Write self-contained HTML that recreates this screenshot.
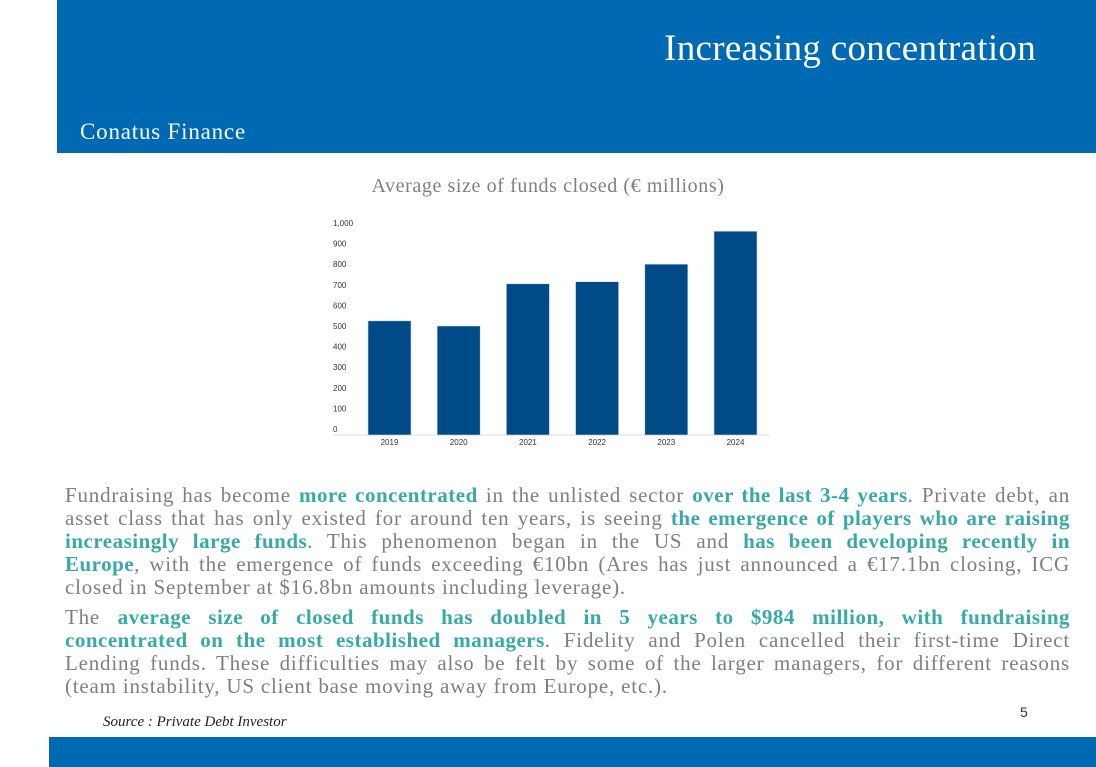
<!DOCTYPE html>
<html><head><meta charset="utf-8">
<style>
body{margin:0;width:1096px;height:767px;position:relative;background:#fff;overflow:hidden;font-family:"Liberation Serif",serif}
.hdr{position:absolute;left:57px;top:0;width:1039px;height:153px;background:#0069b4}
.title{position:absolute;right:60px;top:27px;color:#fff;font-size:37px;letter-spacing:0.3px}
.brand{position:absolute;left:23px;top:119px;color:#fff;font-size:23px;letter-spacing:0.8px}
.ctitle{position:absolute;left:0;width:1096px;top:175px;text-align:center;color:#7f7f7f;font-size:20px;letter-spacing:0.6px}
.txt{position:absolute;left:65px;width:1005px;color:#7f7f7f;font-size:21px;letter-spacing:0.8px}
.ln{height:23px;line-height:23px;text-align:justify;text-align-last:justify;white-space:nowrap;overflow:visible}
.ln.last{text-align-last:left}
b{color:#35aaa6;letter-spacing:0.5px}
.src{position:absolute;left:103px;top:714px;font-style:italic;font-size:15px;color:#222}
.pg{position:absolute;left:1020px;top:704px;font-family:"Liberation Sans",sans-serif;font-size:14px;color:#333}
.ftr{position:absolute;left:49px;top:737px;width:1047px;height:30px;background:#0069b4}
</style></head><body>
<div class="hdr">
<div class="title">Increasing concentration</div>
<div class="brand">Conatus Finance</div>
</div>
<div class="ctitle">Average size of funds closed (€ millions)</div>
<svg id="chart" style="position:absolute;left:0;top:0" width="1096" height="767"></svg>
<div class="txt" style="top:484px">
<div class="ln">Fundraising has become <b>more concentrated</b> in the unlisted sector <b>over the last 3-4 years</b>. Private debt, an</div>
<div class="ln">asset class that has only existed for around ten years, is seeing <b>the emergence of players who are raising</b></div>
<div class="ln"><b>increasingly large funds</b>. This phenomenon began in the US and <b>has been developing recently in</b></div>
<div class="ln"><b>Europe</b>, with the emergence of funds exceeding €10bn (Ares has just announced a €17.1bn closing, ICG</div>
<div class="ln last">closed in September at $16.8bn amounts including leverage).</div>
</div>
<div class="txt" style="top:606px">
<div class="ln">The <b>average size of closed funds has doubled in 5 years to $984 million, with fundraising</b></div>
<div class="ln"><b>concentrated on the most established managers</b>. Fidelity and Polen cancelled their first-time Direct</div>
<div class="ln">Lending funds. These difficulties may also be felt by some of the larger managers, for different reasons</div>
<div class="ln last">(team instability, US client base moving away from Europe, etc.).</div>
</div>
<div class="pg">5</div>
<div class="src">Source : Private Debt Investor</div>
<div class="ftr"></div>
<script>
const categories=["2019","2020","2021","2022","2023","2024"];
const values=[525,500,705,715,800,960];
const ticks=[0,100,200,300,400,500,600,700,800,900,1000];
const tickLabels=["0","100","200","300","400","500","600","700","800","900","1,000"];
const svg=document.getElementById('chart');
const NS="http://www.w3.org/2000/svg";
const y=v=>429-v*0.206;
const x=i=>368+i*69.2;
const bw=43, base=435;
function mk(t,a){const e=document.createElementNS(NS,t);for(const k in a)e.setAttribute(k,a[k]);svg.appendChild(e);return e;}
ticks.forEach((t,i)=>{const e=mk('text',{x:333,y:y(t)+3,'font-size':8,'font-family':'Liberation Sans, sans-serif',fill:'#333'});e.textContent=tickLabels[i];

});
const ax=mk('line',{x1:333,x2:770,y1:base,y2:base,stroke:'#ddd','stroke-width':1});


values.forEach((v,i)=>{const r=mk('rect',{x:x(i),y:y(v),width:bw,height:base-y(v),fill:'#004a87',stroke:'#c9d6e6','stroke-width':0.6});


const t=mk('text',{x:x(i)+bw/2,y:445,'text-anchor':'middle','font-size':8,'font-family':'Liberation Sans, sans-serif',fill:'#333'});t.textContent=categories[i];

});
</script>
</body></html>
